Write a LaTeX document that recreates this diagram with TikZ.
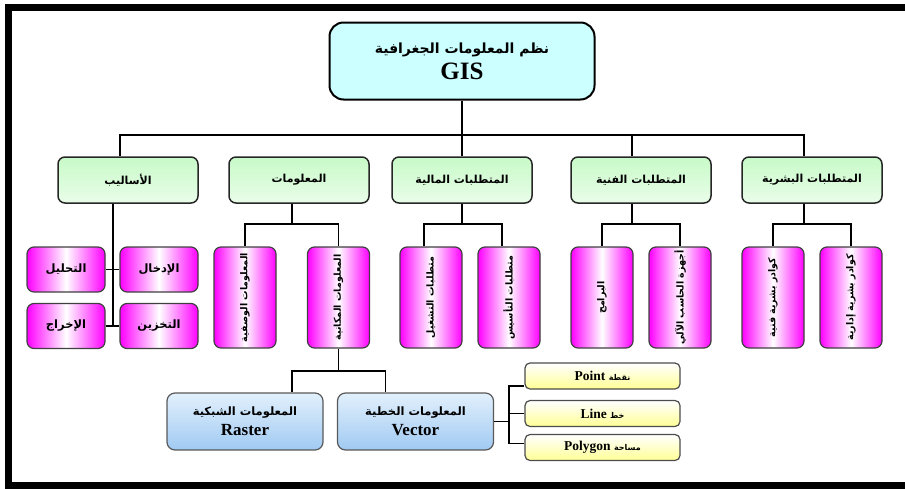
\documentclass[tikz,border=0pt]{standalone}
\usepackage{fontspec}
\setmainfont{Liberation Serif}
\newfontfamily\arabicfont[Script=Arabic]{DejaVu Sans}
\TeXXeTstate=1
\usetikzlibrary{positioning, calc}

\newcommand{\arR}{\arabicfont\bfseries}

\definecolor{gisCyan}{RGB}{204,255,255}
\definecolor{catGreen}{RGB}{200,250,200}
\definecolor{subPink}{RGB}{255,0,255}
\definecolor{repBlue}{RGB}{160,202,242}
\definecolor{repBlueL}{RGB}{226,240,252}
\definecolor{geomYellow}{RGB}{255,255,150}

\begin{document}
\begin{tikzpicture}[x=1pt, y=-1pt,
    conn/.style={line width=1.5pt},
    gisbox/.style={draw, line width=2pt, rounded corners=14pt, fill=gisCyan,
        minimum width=265pt, minimum height=77pt, align=center},
    catbox/.style={draw=black!85, line width=1.5pt, rounded corners=7pt,
        top color=catGreen, bottom color=catGreen!40,
        minimum width=140pt, minimum height=46pt,
        font=\fontsize{11}{13}\selectfont},
    hbox/.style={draw=black!75, line width=1.2pt, rounded corners=7pt,
        left color=subPink, right color=subPink, middle color=white,
        minimum width=78pt, minimum height=45pt,
        font=\fontsize{11.5}{13}\selectfont},
    vbox/.style={draw=black!75, line width=1.2pt, rounded corners=7pt,
        left color=subPink, right color=subPink, middle color=white,
        minimum width=62pt, minimum height=101pt},
    vtext/.style={rotate=90, font=\fontsize{9.5}{11}\selectfont},
    repbox/.style={draw=black!65, line width=1.2pt, rounded corners=8pt,
        top color=repBlueL, bottom color=repBlue,
        minimum width=156pt, minimum height=57pt, align=center},
    geombox/.style={draw=black!70, line width=1.2pt, rounded corners=5pt,
        top color=white, bottom color=geomYellow,
        minimum width=155pt, minimum height=26pt,
        font=\fontsize{13.5}{15}\selectfont\bfseries}
]

\useasboundingbox (0,0) rectangle (905,488);
\clip (0,0) rectangle (905,488);

% Frame (its right side lies outside the picture)
\draw[line width=7pt] (910,7) -- (8,7) -- (8,485.5) -- (910,485.5);

% Root
\node[gisbox] (gis) at (462,61) {\fontsize{14}{20}\selectfont{\arR\beginR نظم المعلومات الجغرافية\endR}\\[5pt]
    \fontsize{25}{26}\selectfont\bfseries GIS};

% Categories
\node[catbox] (asalib)    at (128,180) {{\arR\beginR الأساليب\endR}};
\node[catbox] (maalumat)  at (299,180) {{\arR\beginR المعلومات\endR}};
\node[catbox] (maliya)    at (462,180) {{\arR\beginR المتطلبات المالية\endR}};
\node[catbox] (fanniya)   at (641,180) {{\arR\beginR المتطلبات الفنية\endR}};
\node[catbox] (bashariya) at (812,180) {{\arR\beginR المتطلبات البشرية\endR}};

% Methods
\node[hbox] (tahlil)  at (66,269.5)  {{\arR\beginR التحليل\endR}};
\node[hbox] (idkhal)  at (159,269.5) {{\arR\beginR الإدخال\endR}};
\node[hbox] (ikhraj)  at (66,326)    {{\arR\beginR الإخراج\endR}};
\node[hbox] (takhzin) at (159,326)   {{\arR\beginR التخزين\endR}};

% Vertical boxes
\node[vbox, label={[vtext]center:{\arR\beginR المعلومات الوصفية\endR}}]  (wasfiya)  at (245,297.5) {};
\node[vbox, label={[vtext]center:{\arR\beginR المعلومات المكانية\endR}}] (makaniya) at (338.5,297.5) {};
\node[vbox, label={[vtext]center:{\arR\beginR متطلبات التشغيل\endR}}]    (tashghil) at (431,297.5) {};
\node[vbox, label={[vtext]center:{\arR\beginR متطلبات التأسيس\endR}}]    (tasis)    at (509,297.5) {};
\node[vbox, label={[vtext]center:{\arR\beginR البرامج\endR}}]            (baramij)  at (602,297.5) {};
\node[vbox, label={[vtext]center:{\arR\beginR أجهزة الحاسب الآلي\endR}}] (ajhiza)   at (680,297.5) {};
\node[vbox, label={[vtext]center:{\arR\beginR كوادر بشرية فنية\endR}}]   (kfanniya) at (773,297.5) {};
\node[vbox, label={[vtext]center:{\arR\beginR كوادر بشرية إدارية\endR}}] (kidariya) at (851,297.5) {};

% Data models
\node[repbox] (raster) at (245,421.5) {\fontsize{11.5}{13}\selectfont{\arR\beginR المعلومات الشبكية\endR}\\[5pt]
    \fontsize{17}{18}\selectfont\bfseries Raster};
\node[repbox] (vector) at (415.5,421.5) {\fontsize{11.5}{13}\selectfont{\arR\beginR المعلومات الخطية\endR}\\[5pt]
    \fontsize{17}{18}\selectfont\bfseries Vector};

% Geometry
\node[geombox] (geomPoint) at (602.5,376)   {Point {\fontsize{8}{10}\selectfont\arR\beginR نقطة\endR}};
\node[geombox] (geomLine)  at (602.5,413.5) {Line {\fontsize{8}{10}\selectfont\arR\beginR خط\endR}};
\node[geombox] (geomPoly)  at (602.5,447.5) {Polygon {\fontsize{8}{10}\selectfont\arR\beginR مساحة\endR}};

% Connectors: root to categories
\coordinate (bus) at (0,135);
\coordinate (asalibTop) at ([xshift=-8pt]asalib.north);
\coordinate (fanniyaTop) at ([xshift=-9pt]fanniya.north);
\coordinate (bashariyaTop) at ([xshift=-8pt]bashariya.north);
\draw[conn] (gis.south) -- (maliya.north);
\draw[conn] (asalibTop) |- (bus -| bashariyaTop) -- (bashariyaTop);
\draw[conn] (fanniyaTop) -- (fanniyaTop |- bus);

% Connectors: methods
\coordinate (asalibStem) at ([xshift=-15pt]asalib.south);
\draw[conn] (asalibStem) -- (asalibStem |- ikhraj.east);
\draw[conn] (tahlil.east) -- (idkhal.west);
\draw[conn] (ikhraj.east) -- (takhzin.west);

% Connectors: categories to vertical boxes
\coordinate (sub) at (0,224);
\coordinate (maalumatStem) at ([xshift=-7pt]maalumat.south);
\draw[conn] (maalumatStem) -- (maalumatStem |- sub);
\draw[conn] (wasfiya.north) |- (sub -| makaniya.north) -- (makaniya.north);

\coordinate (tashghilTop) at ([xshift=-7pt]tashghil.north);
\coordinate (tasisTop) at ([xshift=-7pt]tasis.north);
\draw[conn] (maliya.south) -- (maliya.south |- sub);
\draw[conn] (tashghilTop) |- (sub -| tasisTop) -- (tasisTop);

\coordinate (fanniyaStem) at ([xshift=-9pt]fanniya.south);
\draw[conn] (fanniyaStem) -- (fanniyaStem |- sub);
\draw[conn] (baramij.north) |- (sub -| ajhiza.north) -- (ajhiza.north);

\coordinate (bashariyaStem) at ([xshift=-8pt]bashariya.south);
\draw[conn] (bashariyaStem) -- (bashariyaStem |- sub);
\draw[conn] (kfanniya.north) |- (sub -| kidariya.north) -- (kidariya.north);

% Connectors: spatial data models
\coordinate (sub2) at (0,371);
\coordinate (rasterTop) at ([xshift=47pt]raster.north);
\coordinate (vectorTop) at ([xshift=-30pt]vector.north);
\draw[conn] (makaniya.south) -- (makaniya.south |- sub2);
\draw[conn] (rasterTop) |- (sub2 -| vectorTop) -- (vectorTop);

% Connectors: geometry types
\coordinate (vj) at ([xshift=15pt]vector.east);
\coordinate (pointTick) at ([yshift=-10pt]geomPoint.west);
\coordinate (polyTick) at ([yshift=4pt]geomPoly.west);
\draw[conn] (vector.east) -- (vj);
\draw[conn] (pointTick) -| (polyTick -| vj) -- (polyTick);
\draw[conn] (geomLine.west) -- (geomLine.west -| vj);

\end{tikzpicture}
\end{document}
